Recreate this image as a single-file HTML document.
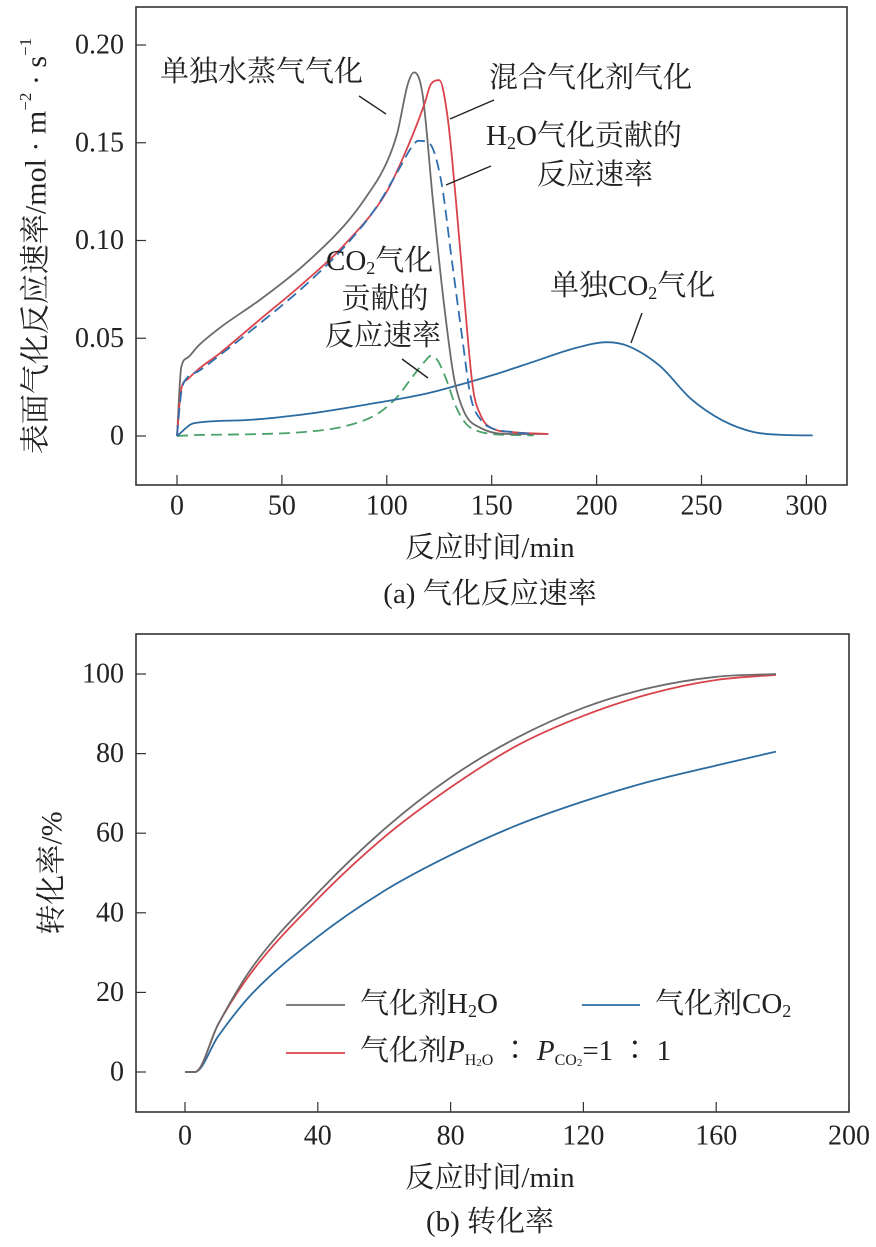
<!DOCTYPE html>
<html><head><meta charset="utf-8"><style>
body{margin:0;background:#fff;width:876px;height:1242px;overflow:hidden}
svg text{font-family:"Liberation Serif","Noto Serif CJK SC",serif;fill:#222}
</style></head><body>
<svg id="svg" width="876" height="1242" xmlns="http://www.w3.org/2000/svg">
<g id="top"></g>
<g id="bot"></g>
</svg>
<script>
// ---- Chart (a) data ----
const aXTicks=[0,50,100,150,200,250,300];
const aYTicks=[0,0.05,0.10,0.15,0.20];
const aYTickLabels=["0","0.05","0.10","0.15","0.20"];
const steamT=[0,2,5,10,20,40,60,80,90,100,105,110,113,117,122,127,132,137,145,160,177];
const steamV=[0,0.035,0.04,0.046,0.055,0.07,0.087,0.108,0.122,0.14,0.155,0.18,0.186,0.175,0.12,0.07,0.03,0.012,0.004,0.001,0.001];
const mixT=[0,2,5,10,20,40,60,80,100,110,118,121,125,129,133,137,141,145,150,160,177];
const mixV=[0,0.024,0.029,0.034,0.042,0.06,0.078,0.098,0.125,0.148,0.17,0.18,0.182,0.163,0.12,0.07,0.025,0.01,0.004,0.002,0.001];
const h2oT=[0,2,5,10,20,40,60,80,95,105,112,115,120,126,131,136,140,145,150,160,170];
const h2oV=[0,0.022,0.03,0.033,0.041,0.058,0.076,0.097,0.117,0.135,0.148,0.151,0.15,0.13,0.09,0.05,0.02,0.008,0.004,0.002,0.001];
const co2cT=[0,10,40,60,80,95,105,112,118,121,124,128,133,138,145,160,170];
const co2cV=[0,0.0005,0.001,0.002,0.005,0.011,0.02,0.03,0.038,0.041,0.039,0.03,0.015,0.006,0.002,0.0005,0.0003];
const co2T=[0,8,30,60,90,120,150,170,190,205,215,230,245,260,275,290,303];
const co2V=[0,0.0065,0.008,0.011,0.016,0.022,0.031,0.038,0.045,0.048,0.046,0.036,0.019,0.008,0.002,0.0005,0.0003];
// ---- Chart (b) data ----
const bXTicks=[0,40,80,120,160,200];
const bYTicks=[0,20,40,60,80,100];
const convT=[0,3,10,20,40,60,80,100,120,140,160,178];
const convH2O=[0,0,12,26,45,61,74,84,91.5,96.5,99.3,100];
const convMix=[0,0,12,25,43.5,59,71.5,82,89.5,95,98.5,99.8];
const convCO2=[0,0,9,19.5,34,45.5,54.5,62,68,73,77,80.5];

const NS="http://www.w3.org/2000/svg";
function mk(parent,tag,attrs,txt){const e=document.createElementNS(NS,tag);for(const k in attrs)e.setAttribute(k,attrs[k]);if(txt!==undefined)e.innerHTML=txt;parent.appendChild(e);return e;}
function frame(g,x0,y0,x1,y1){const r=mk(g,'rect',{x:x0,y:y0,width:x1-x0,height:y1-y0,fill:'none',stroke:'#333','stroke-width':1.6});

}
// monotone cubic path
function smoothPath(P){const n=P.length;if(n<3)return P.map((p,i)=>(i?'L':'M')+p[0]+','+p[1]).join('');
const d=[],m=[];for(let i=0;i<n-1;i++){const dx=P[i+1][0]-P[i][0];d.push(dx===0?0:(P[i+1][1]-P[i][1])/dx);}
m[0]=d[0];m[n-1]=d[n-2];for(let i=1;i<n-1;i++){m[i]=(d[i-1]*d[i]<=0)?0:(d[i-1]+d[i])/2;}
for(let i=0;i<n-1;i++){if(d[i]===0){m[i]=0;m[i+1]=0;continue;}const a=m[i]/d[i],b=m[i+1]/d[i],s=a*a+b*b;if(s>9){const t=3/Math.sqrt(s);m[i]=t*a*d[i];m[i+1]=t*b*d[i];}}
let s='M'+P[0][0].toFixed(1)+','+P[0][1].toFixed(1);
for(let i=0;i<n-1;i++){const h=(P[i+1][0]-P[i][0])/3;s+='C'+(P[i][0]+h).toFixed(1)+','+(P[i][1]+m[i]*h).toFixed(1)+' '+(P[i+1][0]-h).toFixed(1)+','+(P[i+1][1]-m[i+1]*h).toFixed(1)+' '+P[i+1][0].toFixed(1)+','+P[i+1][1].toFixed(1);}
return s;}
function series(g,xs,ys,sx,sy,color,dash,name){const pts=xs.map((t,i)=>[sx(t),sy(ys[i])]);
const p=mk(g,'path',{d:smoothPath(pts),fill:'none',stroke:color,'stroke-width':1.8,'stroke-dasharray':dash||'none','stroke-linejoin':'round'});

}
function txt(g,x,y,s,size,anchor,name,extra){const t=mk(g,'text',Object.assign({x:x,y:y,'font-size':size,'text-anchor':anchor||'start','dominant-baseline':'central'},extra||{}),s);

return t;}
function line(g,x1,y1,x2,y2,name,color,w){const l=mk(g,'line',{x1:x1,y1:y1,x2:x2,y2:y2,stroke:color||'#222','stroke-width':w||1.4});

}
const TF=28, LF=29;

// Chart (a)
const A=document.getElementById('top');
const ax=t=>177+t*2.098, ay=v=>436-v*1955;
frame(A,136,7,847,485);
aXTicks.forEach(t=>{line(A,ax(t),485,ax(t),475,'x-tick','#333',1.2);txt(A,ax(t),506,String(t),TF,'middle','x-tick-label');});
aYTicks.forEach((v,i)=>{line(A,136,ay(v),146,ay(v),'y-tick','#333',1.2);txt(A,124,ay(v),aYTickLabels[i],TF,'end','y-tick-label');});
series(A,co2cT,co2cV,ax,ay,'#4aa36a','11,6','co2-contribution-line');
series(A,co2T,co2V,ax,ay,'#2c6ba0',null,'co2-only-line');
series(A,steamT,steamV,ax,ay,'#6b6b6b',null,'steam-only-line');
series(A,mixT,mixV,ax,ay,'#d9434b',null,'mixed-agent-line');
series(A,h2oT,h2oV,ax,ay,'#2f6fb0','11,6','h2o-contribution-line');
txt(A,160,72,'单独水蒸气气化',LF,'start','label-steam-only');
line(A,359,96,386,114,'leader-steam-only');
txt(A,489,78,'混合气化剂气化',LF,'start','label-mixed');
line(A,494,100,450,119,'leader-mixed');
txt(A,486,136,'H<tspan font-size="18" dy="7">2</tspan><tspan dy="-7">O气化贡献的</tspan>',LF,'start','label-h2o-contribution');
txt(A,595,175,'反应速率',LF,'middle','label-h2o-contribution-2');
line(A,491,166,446,185,'leader-h2o-contribution');
txt(A,326,261,'CO<tspan font-size="18" dy="7">2</tspan><tspan dy="-7">气化</tspan>',LF,'start','label-co2-contribution');
txt(A,385,299,'贡献的',LF,'middle','label-co2-contribution-2');
txt(A,383,336,'反应速率',LF,'middle','label-co2-contribution-3');
line(A,402,359,428,378,'leader-co2-contribution');
txt(A,550,286,'单独CO<tspan font-size="18" dy="7">2</tspan><tspan dy="-7">气化</tspan>',LF,'start','label-co2-only');
line(A,642,313,631,343,'leader-co2-only');
txt(A,490,548,'反应时间/min',LF,'middle','x-axis-title');
txt(A,490,594,'(a) 气化反应速率',LF,'middle','caption-a');
txt(A,0,0,'表面气化反应速率/mol · m<tspan font-size="17" dy="-11">−2</tspan><tspan dy="11"> · s</tspan><tspan font-size="17" dy="-11">−1</tspan>',30,'middle','y-axis-title',{transform:'translate(36,246) rotate(-90)'});

// Chart (b)
const B=document.getElementById('bot');
const bx=t=>185+t*3.32, by=v=>1072-v*3.98;
frame(B,136,634,849,1112);
bXTicks.forEach(t=>{line(B,bx(t),1112,bx(t),1102,'x-tick','#333',1.2);txt(B,bx(t),1136,String(t),TF,'middle','x-tick-label');});
bYTicks.forEach(v=>{line(B,136,by(v),146,by(v),'y-tick','#333',1.2);txt(B,124,by(v),String(v),TF,'end','y-tick-label');});
series(B,convT,convCO2,bx,by,'#2c6ba0',null,'co2-conversion-line');
series(B,convT,convMix,bx,by,'#d9434b',null,'mixed-conversion-line');
series(B,convT,convH2O,bx,by,'#6b6b6b',null,'h2o-conversion-line');
line(B,286,1005,345,1005,'legend-swatch-h2o','#6b6b6b',1.8);
txt(B,360,1004,'气化剂H<tspan font-size="18" dy="7">2</tspan><tspan dy="-7">O</tspan>',LF,'start','legend-label-h2o');
line(B,582,1005,640,1005,'legend-swatch-co2','#2c6ba0',1.8);
txt(B,655,1004,'气化剂CO<tspan font-size="18" dy="7">2</tspan>',LF,'start','legend-label-co2');
line(B,286,1053,345,1053,'legend-swatch-mixed','#d9434b',1.8);
txt(B,360,1051,'气化剂<tspan font-style="italic">P</tspan><tspan font-size="16" dy="9">H</tspan><tspan font-size="11" dy="3">2</tspan><tspan font-size="16" dy="-3">O</tspan><tspan dy="-9"> ∶ </tspan><tspan font-style="italic">P</tspan><tspan font-size="16" dy="9">CO</tspan><tspan font-size="11" dy="3">2</tspan><tspan dy="-12">=1 ∶ 1</tspan>',LF,'start','legend-label-mixed');
txt(B,490,1178,'反应时间/min',LF,'middle','x-axis-title');
txt(B,490,1222,'(b) 转化率',LF,'middle','caption-b');
txt(B,0,0,'转化率/%',30,'middle','y-axis-title',{transform:'translate(52,873) rotate(-90)'});
</script>
</body></html>
